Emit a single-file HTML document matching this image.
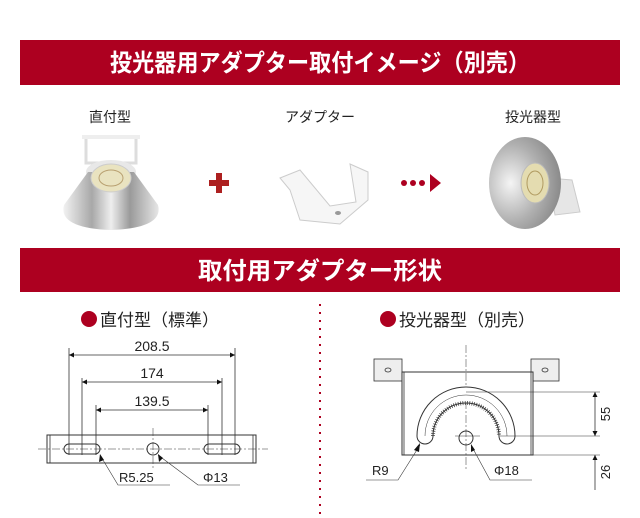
<!DOCTYPE html>
<html><head><meta charset="utf-8">
<style>
body{margin:0;background:#fff;}
svg{display:block}
text{font-family:"Liberation Sans","Noto Sans CJK JP",sans-serif;}
</style></head><body>
<svg width="640" height="518" viewBox="0 0 640 518" xmlns="http://www.w3.org/2000/svg">
<defs>
<linearGradient id="cone" x1="0" x2="1" y1="0" y2="0">
<stop offset="0" stop-color="#f2f2f2"/><stop offset="0.3" stop-color="#a8a8a8"/><stop offset="0.5" stop-color="#eeeeee"/><stop offset="0.7" stop-color="#9a9a9a"/><stop offset="1" stop-color="#e6e6e6"/>
</linearGradient>
<radialGradient id="cone2" cx="0.3" cy="0.5" r="0.7">
<stop offset="0" stop-color="#f5f5f5"/><stop offset="0.6" stop-color="#b0b0b0"/><stop offset="1" stop-color="#8a8a8a"/>
</radialGradient>
<marker id="ar" viewBox="0 0 10 10" refX="10" refY="5" markerWidth="8" markerHeight="5" orient="auto-start-reverse" markerUnits="userSpaceOnUse"><path d="M0,0L10,5L0,10z" fill="#111"/></marker>
</defs>
<!-- banners -->
<rect x="20" y="40" width="600" height="45" fill="#ad0020"/>
<text x="110" y="71" textLength="420" lengthAdjust="spacingAndGlyphs" font-size="24" font-weight="bold" fill="#fff">投光器用アダプター取付イメージ（別売）</text>
<rect x="20" y="248" width="600" height="44" fill="#ad0020"/>
<text x="198" y="279" textLength="244" lengthAdjust="spacingAndGlyphs" font-size="24" font-weight="bold" fill="#fff">取付用アダプター形状</text>

<!-- labels -->
<text x="110" y="122" text-anchor="middle" font-size="14" fill="#222">直付型</text>
<text x="320" y="122" text-anchor="middle" font-size="14" fill="#222">アダプター</text>
<text x="533" y="122" text-anchor="middle" font-size="14" fill="#222">投光器型</text>

<!-- lamp 1 -->
<rect x="86" y="137" width="50" height="26" fill="none" stroke="#ddd" stroke-width="3"/>
<rect x="82" y="135" width="58" height="4" fill="#eee"/>
<ellipse cx="111" cy="172" rx="25" ry="12" fill="#e8e8e8"/>
<path d="M88,172 L64,205 Q58,228 111,230 Q164,228 158,205 L134,172z" fill="url(#cone)"/>
<ellipse cx="111" cy="178" rx="20" ry="14" fill="#e9e3c0" stroke="#ccc"/>
<ellipse cx="111" cy="178" rx="12" ry="8" fill="none" stroke="#b8a070"/>
<!-- plus -->
<rect x="209" y="180" width="20" height="6" fill="#ad2020"/>
<rect x="216" y="173" width="6" height="20" fill="#ad2020"/>
<!-- adapter -->
<path d="M280,178 L300,170 L330,206 L356,202 L350,164 L368,172 L368,200 L340,224 L300,220 L290,190z" fill="#f6f6f6" stroke="#ccc"/>
<ellipse cx="338" cy="213" rx="3" ry="2" fill="#999"/>
<!-- dots arrow -->
<circle cx="404" cy="183" r="3" fill="#ad0020"/><circle cx="413" cy="183" r="3" fill="#ad0020"/><circle cx="422" cy="183" r="3" fill="#ad0020"/>
<path d="M430,174 L441,183 L430,192z" fill="#ad0020"/>
<!-- lamp 2 -->
<path d="M548,178 L572,180 L580,212 L555,215z" fill="#e6e6e6" stroke="#ccc"/>
<ellipse cx="525" cy="183" rx="36" ry="46" fill="url(#cone2)"/>
<ellipse cx="535" cy="183" rx="14" ry="20" fill="#e4dcb0" stroke="#bbb"/>
<ellipse cx="535" cy="183" rx="8" ry="12" fill="none" stroke="#b09a60"/>

<!-- divider -->
<line x1="320" y1="304" x2="320" y2="518" stroke="#ad0020" stroke-width="2" stroke-dasharray="2,6"/>
<circle cx="89" cy="319" r="8" fill="#ad0020"/>
<text x="100" y="326" font-size="17" fill="#222">直付型（標準）</text>
<circle cx="388" cy="319" r="8" fill="#ad0020"/>
<text x="399" y="326" font-size="17" fill="#222">投光器型（別売）</text>

<!-- left drawing -->
<g stroke="#333" stroke-width="0.8" fill="none">
<line x1="69" y1="348" x2="69" y2="455"/><line x1="235" y1="348" x2="235" y2="455"/>
<line x1="82" y1="378" x2="82" y2="455"/><line x1="222" y1="378" x2="222" y2="455"/>
<line x1="96" y1="405" x2="96" y2="455"/><line x1="208" y1="405" x2="208" y2="455"/>
<line x1="69" y1="355" x2="235" y2="355" marker-start="url(#ar)" marker-end="url(#ar)"/>
<line x1="82" y1="382" x2="222" y2="382" marker-start="url(#ar)" marker-end="url(#ar)"/>
<line x1="96" y1="410" x2="208" y2="410" marker-start="url(#ar)" marker-end="url(#ar)"/>
<rect x="47" y="435" width="209" height="28" stroke-width="1"/>
<line x1="50" y1="435" x2="50" y2="463"/><line x1="253" y1="435" x2="253" y2="463"/>
<line x1="38" y1="449" x2="268" y2="449" stroke-dasharray="8,2,2,2" stroke-width="0.5"/>
<line x1="153" y1="428" x2="153" y2="470" stroke-dasharray="8,2,2,2" stroke-width="0.5"/>
<rect x="64" y="444" width="36" height="10" rx="5" stroke-width="1"/>
<rect x="204" y="444" width="36" height="10" rx="5" stroke-width="1"/>
<circle cx="153" cy="449" r="6" stroke-width="1"/>
<polyline points="100,455 118,485 170,485" stroke-width="0.6"/>
<polyline points="158,455 198,485 240,485" stroke-width="0.6"/>
</g>
<path d="M100,454 L99,462 L104,460z" fill="#111"/>
<path d="M158,454 L159,462 L163,458z" fill="#111"/>
<text x="152" y="351" text-anchor="middle" font-size="14" fill="#222">208.5</text>
<text x="152" y="378" text-anchor="middle" font-size="14" fill="#222">174</text>
<text x="152" y="406" text-anchor="middle" font-size="14" fill="#222">139.5</text>
<text x="119" y="482" font-size="13" fill="#222">R5.25</text>
<text x="203" y="482" font-size="13" fill="#222">Φ13</text>

<!-- right drawing -->
<g stroke="#333" stroke-width="0.8" fill="none">
<rect x="374" y="359" width="28" height="22" fill="#eee"/>
<rect x="531" y="359" width="28" height="22" fill="#eee"/>
<ellipse cx="388" cy="370" rx="3" ry="2"/><ellipse cx="545" cy="370" rx="3" ry="2"/>
<rect x="402" y="372" width="131" height="83" fill="#fff" stroke-width="1"/>
<line x1="404" y1="372" x2="404" y2="455"/><line x1="531" y1="372" x2="531" y2="455"/>
<line x1="466" y1="345" x2="466" y2="470" stroke-dasharray="8,2,2,2" stroke-width="0.5"/>
<path d="M417,436 A49,49 0 0 1 515,436 A8,8 0 0 1 499,436 A33,33 0 0 0 433,436 A8,8 0 0 1 417,436z" fill="#fff" stroke-width="1"/>
<path d="M425,436 A41,41 0 0 1 507,436" stroke-width="0.5"/>
<path d="M433,436 A33,33 0 0 1 499,436" stroke="#333" stroke-width="4" stroke-dasharray="0.7,1.6"/>
<line x1="455" y1="436" x2="480" y2="436" stroke-width="0.5"/>
<circle cx="466" cy="438" r="7" stroke-width="1"/>
<line x1="466" y1="392" x2="600" y2="392" stroke-width="0.5"/>
<line x1="500" y1="436" x2="600" y2="436" stroke-width="0.5"/>
<line x1="533" y1="455" x2="600" y2="455" stroke-width="0.5"/>
<line x1="595" y1="392" x2="595" y2="436" marker-start="url(#ar)" marker-end="url(#ar)"/>
<line x1="595" y1="455" x2="595" y2="490" marker-start="url(#ar)"/>
<polyline points="420,445 398,480 366,480" stroke-width="0.6"/>
<polyline points="471,445 490,480 532,480" stroke-width="0.6"/>
</g>
<path d="M420,443 L414,450 L419,452z" fill="#111"/>
<path d="M471,444 L471,452 L475,450z" fill="#111"/>
<text x="372" y="475" font-size="13" fill="#222">R9</text>
<text x="494" y="475" font-size="13" fill="#222">Φ18</text>
<text transform="translate(610,414) rotate(-90)" text-anchor="middle" font-size="13" fill="#222">55</text>
<text transform="translate(610,472) rotate(-90)" text-anchor="middle" font-size="13" fill="#222">26</text>
</svg>
</body></html>
